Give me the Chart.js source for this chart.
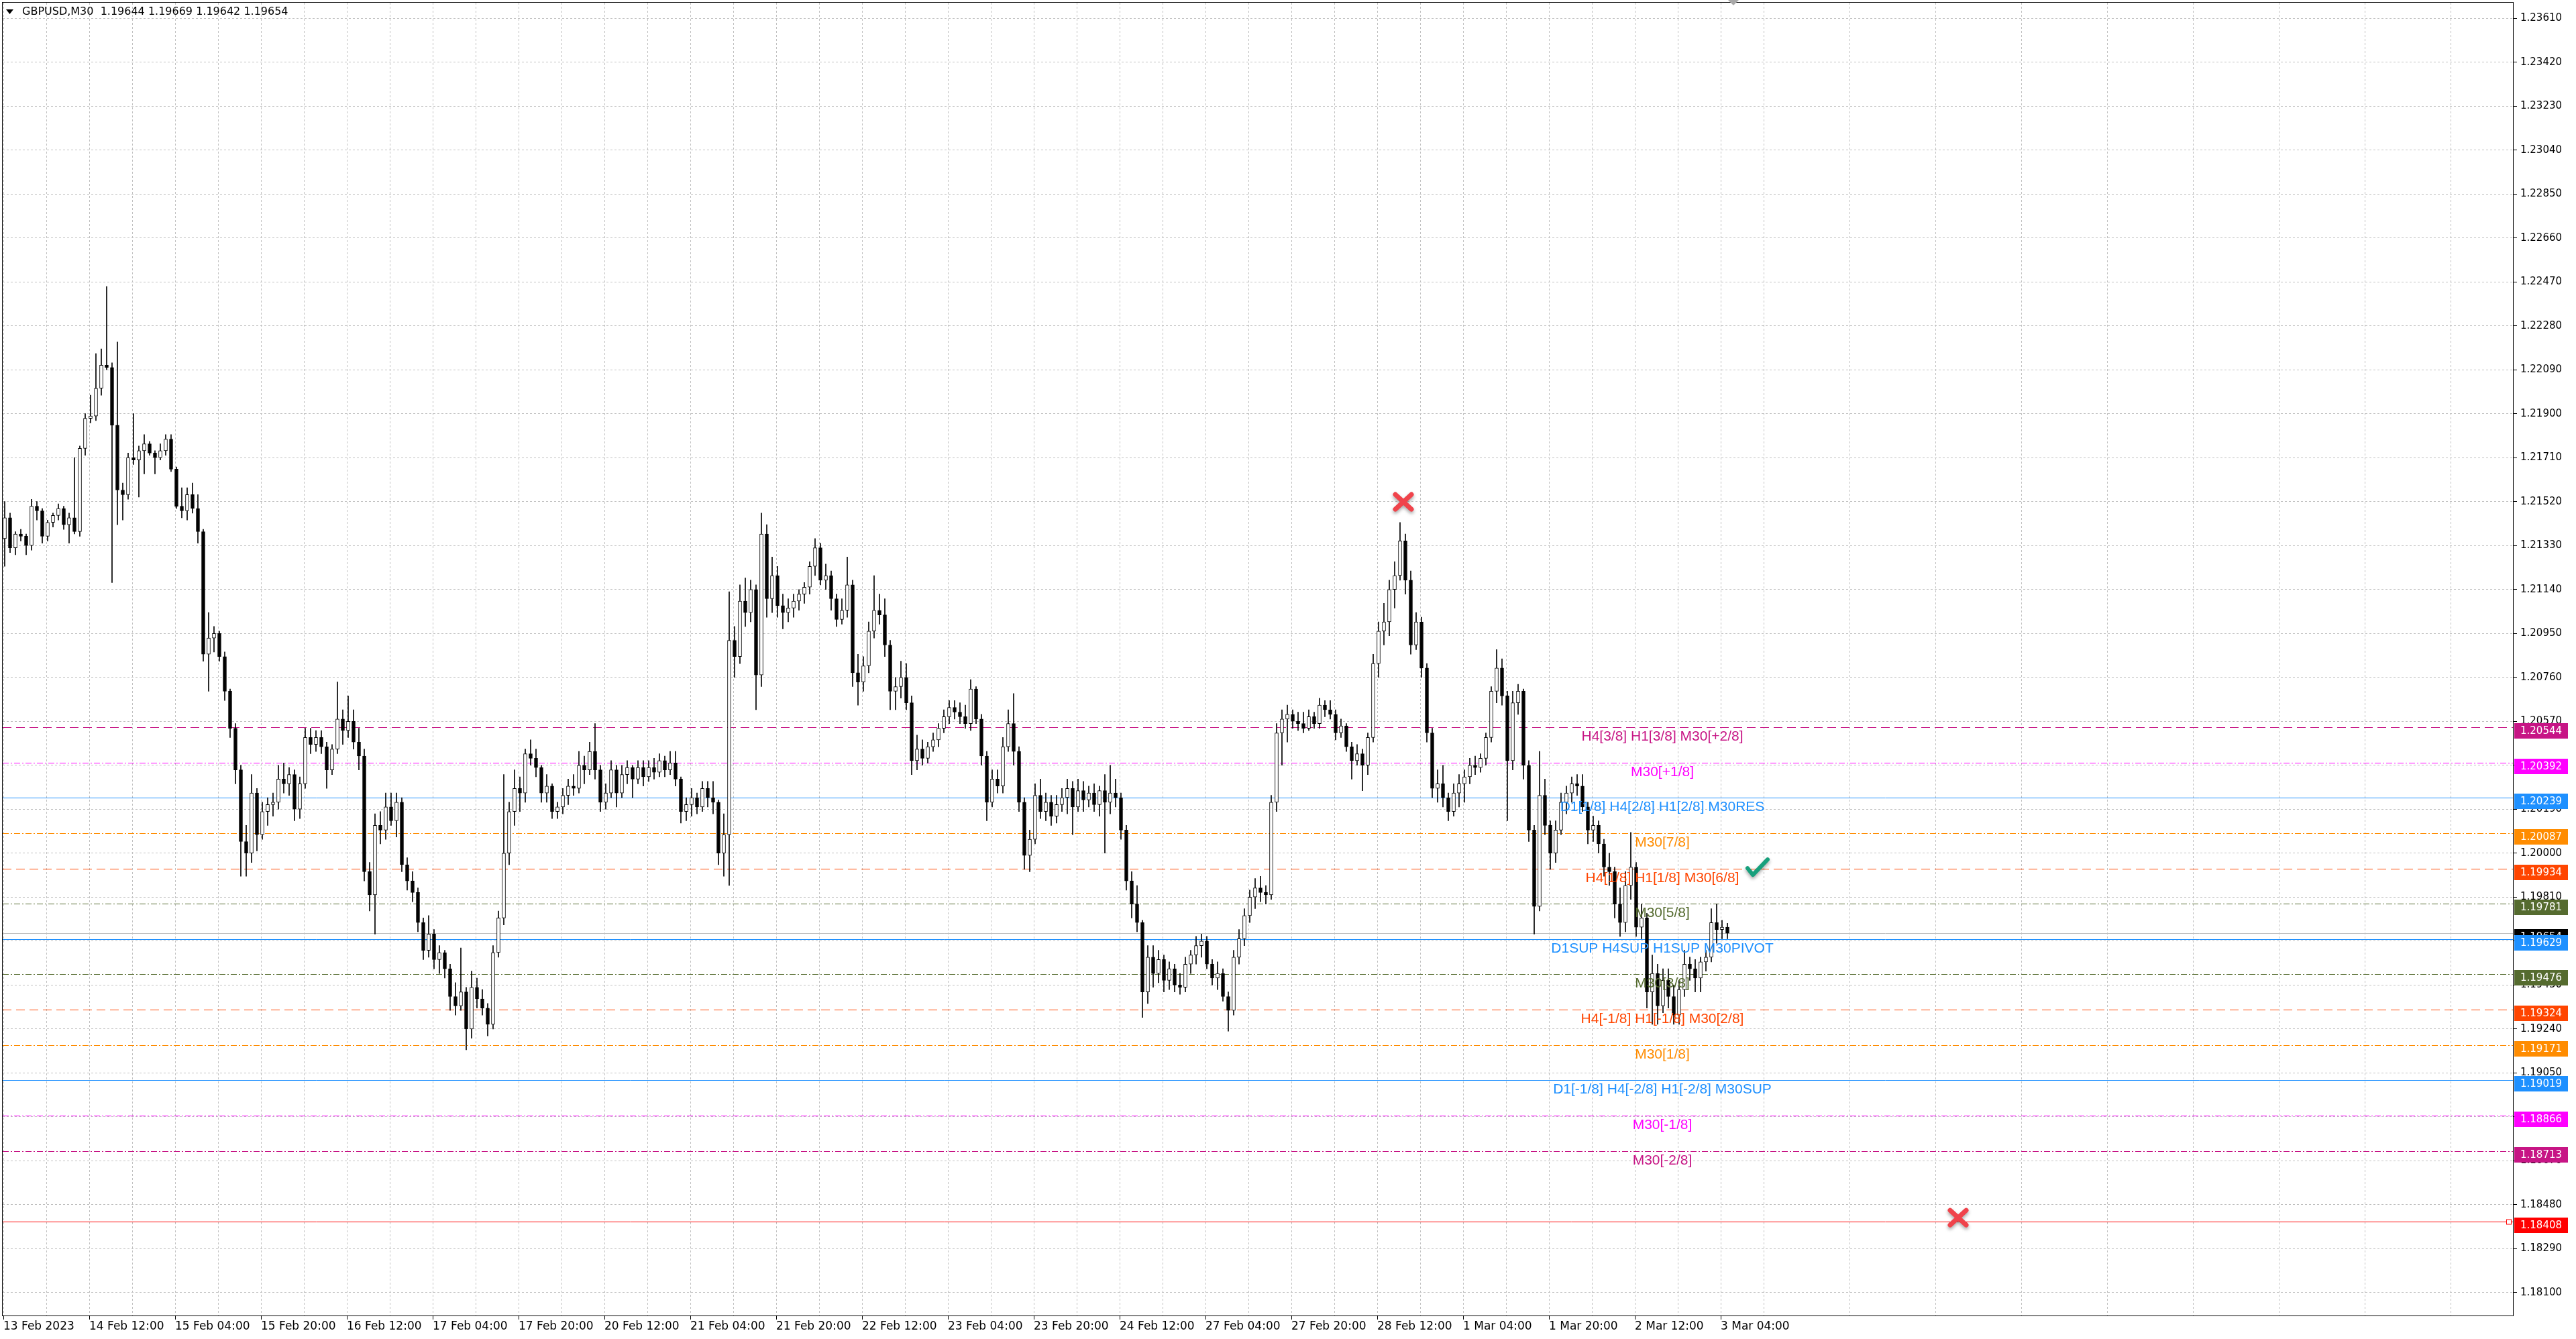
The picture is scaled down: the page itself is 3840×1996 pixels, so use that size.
<!DOCTYPE html>
<html>
<head>
<meta charset="utf-8">
<script src="https://cdn.jsdelivr.net/npm/chart.js"></script>
<style>
  html, body { margin: 0; padding: 0; background: #fff; }
  canvas { display: block; }
</style>
</head>
<body>
<canvas id="chart" width="3840" height="1996" style="width:3840px;height:1996px"></canvas>
<script>
// GBPUSD M30, 13 Feb - 3 Mar 2023, read off the screenshot as hourly candles
// prices are kept in pips above 1.18000
const base = 1.18
const firstOpen = 336

const closePips = [
  345, 332, 338, 337, 333, 350, 348, 337, 343, 346,
  349, 342, 345, 339, 375, 388, 389, 401, 411, 410,
  385, 357, 355, 371, 370, 374, 377, 373, 371, 374,
  379, 366, 350, 348, 355, 349, 339, 286, 293, 295,
  285, 270, 254, 236, 205, 200, 226, 208, 218, 221,
  222, 232, 230, 234, 219, 230, 250, 247, 250, 246,
  236, 245, 258, 253, 257, 248, 242, 192, 182, 212,
  210, 220, 214, 222, 195, 188, 183, 170, 158, 165,
  154, 157, 150, 138, 134, 140, 124, 142, 137, 133,
  126, 157, 172, 200, 218, 228, 226, 243, 241, 237,
  226, 229, 218, 220, 225, 229, 228, 238, 236, 244,
  236, 222, 226, 236, 226, 234, 237, 232, 237, 233,
  237, 235, 240, 236, 239, 232, 218, 221, 224, 220,
  228, 224, 222, 200, 208, 292, 285, 309, 304, 314,
  277, 338, 310, 320, 307, 304, 306, 309, 312, 315,
  324, 332, 318, 320, 310, 301, 305, 316, 278, 274,
  281, 296, 305, 303, 290, 270, 272, 276, 265, 240,
  245, 241, 246, 249, 254, 259, 263, 261, 259, 256,
  271, 258, 242, 222, 232, 229, 246, 256, 244, 222,
  199, 206, 225, 218, 222, 216, 221, 224, 228, 220,
  227, 223, 226, 221, 227, 222, 226, 224, 210, 188,
  178, 170, 140, 155, 148, 154, 145, 150, 143, 142,
  152, 156, 160, 162, 152, 146, 148, 138, 132, 155,
  163, 173, 181, 185, 183, 182, 222, 252, 258, 260,
  257, 256, 254, 259, 256, 264, 262, 260, 252, 255,
  246, 240, 243, 238, 250, 282, 296, 300, 314, 320,
  335, 318, 290, 300, 280, 252, 228, 230, 224, 218,
  226, 230, 233, 238, 237, 241, 250, 270, 280, 268,
  240, 265, 270, 238, 210, 177, 225, 212, 200, 210,
  222, 226, 230, 229, 220, 210, 212, 204, 194, 192,
  178, 170, 186, 194, 168, 172, 140, 148, 134, 145,
  138, 130, 141, 152, 150, 146, 153, 155, 170, 167,
  168, 165.4
]

const highPips = [
  352, 347, 339, 340, 338, 353, 352, 349, 344, 347,
  351, 350, 347, 371, 376, 390, 398, 416, 418, 445,
  412, 421, 360, 373, 390, 376, 381, 378, 374, 377,
  381, 381, 367, 358, 358, 360, 355, 340, 304, 298,
  296, 287, 271, 256, 238, 212, 234, 228, 222, 224,
  226, 238, 239, 237, 236, 233, 254, 254, 253, 253,
  248, 247, 274, 262, 268, 262, 254, 245, 196, 217,
  218, 226, 226, 226, 224, 198, 192, 185, 172, 173,
  167, 160, 158, 152, 144, 159, 142, 149, 146, 141,
  135, 160, 175, 234, 222, 236, 233, 245, 249, 245,
  238, 234, 230, 222, 228, 232, 234, 244, 242, 248,
  256, 238, 230, 240, 238, 238, 240, 238, 240, 240,
  240, 241, 243, 242, 244, 244, 233, 224, 228, 226,
  231, 231, 231, 223, 217, 313, 298, 316, 319, 318,
  316, 347, 342, 328, 324, 312, 310, 312, 314, 317,
  326, 336, 334, 325, 322, 312, 310, 328, 318, 286,
  285, 300, 320, 312, 310, 292, 276, 283, 282, 268,
  251, 249, 248, 252, 256, 262, 266, 266, 265, 264,
  275, 272, 260, 244, 236, 236, 250, 262, 269, 246,
  224, 210, 230, 232, 226, 225, 225, 228, 232, 231,
  232, 231, 229, 230, 229, 234, 238, 232, 226, 212,
  192, 186, 171, 160, 160, 158, 156, 153, 152, 148,
  155, 158, 164, 165, 164, 154, 153, 150, 140, 158,
  167, 176, 184, 189, 190, 186, 225, 256, 262, 264,
  262, 261, 261, 262, 261, 267, 266, 266, 262, 258,
  256, 248, 247, 245, 252, 286, 300, 308, 318, 326,
  343, 338, 322, 304, 302, 282, 254, 236, 238, 226,
  230, 234, 236, 241, 242, 243, 252, 272, 288, 284,
  270, 270, 273, 271, 240, 212, 244, 232, 214, 214,
  226, 229, 233, 234, 234, 222, 216, 214, 206, 200,
  194, 185, 192, 209, 196, 178, 174, 156, 152, 150,
  150, 143, 145, 158, 155, 154, 155, 158, 176, 178,
  171, 169.7
]

const lowPips = [
  324, 330, 329, 335, 329, 331, 344, 334, 335, 341,
  344, 340, 334, 338, 337, 372, 386, 387, 398, 409,
  317, 342, 344, 353, 368, 354, 364, 372, 364, 370,
  372, 365, 349, 345, 344, 347, 334, 283, 270, 287,
  283, 266, 250, 230, 190, 190, 196, 201, 206, 212,
  216, 219, 226, 225, 214, 215, 228, 243, 244, 243,
  228, 234, 243, 247, 250, 245, 236, 188, 175, 165,
  204, 206, 212, 207, 192, 184, 179, 166, 154, 155,
  150, 148, 146, 132, 130, 132, 115, 120, 133, 130,
  121, 124, 155, 169, 195, 212, 218, 222, 238, 233,
  222, 222, 215, 215, 217, 221, 225, 226, 230, 234,
  232, 218, 219, 224, 220, 224, 230, 224, 230, 229,
  231, 232, 233, 233, 234, 229, 213, 214, 216, 217,
  218, 220, 217, 195, 190, 186, 276, 282, 298, 300,
  262, 272, 302, 304, 302, 297, 300, 302, 305, 308,
  312, 320, 316, 314, 305, 298, 299, 302, 272, 264,
  270, 278, 293, 299, 285, 262, 262, 267, 262, 234,
  236, 238, 239, 244, 246, 252, 256, 258, 256, 254,
  253, 256, 238, 214, 220, 226, 226, 244, 238, 218,
  193, 192, 204, 215, 214, 212, 213, 218, 217, 208,
  218, 218, 220, 218, 216, 200, 217, 220, 206, 184,
  172, 166, 129, 135, 142, 144, 140, 141, 140, 139,
  140, 148, 152, 155, 150, 143, 141, 136, 123, 130,
  152, 160, 170, 176, 179, 178, 180, 218, 238, 248,
  254, 253, 252, 253, 254, 254, 259, 258, 249, 250,
  244, 232, 238, 227, 234, 248, 276, 290, 294, 306,
  318, 312, 286, 288, 276, 248, 224, 222, 220, 214,
  216, 220, 222, 230, 234, 235, 238, 248, 265, 264,
  214, 236, 260, 232, 205, 165, 175, 208, 193, 196,
  208, 217, 222, 225, 218, 204, 205, 200, 190, 186,
  172, 164, 166, 180, 164, 163, 133, 126, 126, 131,
  133, 126, 126, 138, 145, 140, 140, 149, 153, 161,
  163, 163
]

// one label every 32 M30 bars
const xLabels = [
  '13 Feb 2023', '14 Feb 12:00', '15 Feb 04:00', '15 Feb 20:00', '16 Feb 12:00',
  '17 Feb 04:00', '17 Feb 20:00', '20 Feb 12:00', '21 Feb 04:00', '21 Feb 20:00',
  '22 Feb 12:00', '23 Feb 04:00', '23 Feb 20:00', '24 Feb 12:00', '27 Feb 04:00',
  '27 Feb 20:00', '28 Feb 12:00', '1 Mar 04:00', '1 Mar 20:00', '2 Mar 12:00',
  '3 Mar 04:00'
]

const yTicks = [
  1.18100, 1.18290, 1.18480, 1.18670, 1.18860, 1.19050, 1.19240, 1.19430, 1.19620, 1.19810,
  1.20000, 1.20190, 1.20380, 1.20570, 1.20760, 1.20950, 1.21140, 1.21330, 1.21520, 1.21710,
  1.21900, 1.22090, 1.22280, 1.22470, 1.22660, 1.22850, 1.23040, 1.23230, 1.23420, 1.23610
]

const levelPrices = [1.20544, 1.20392, 1.20239, 1.20087, 1.19934, 1.19781, 1.19629,
  1.19476, 1.19324, 1.19171, 1.19019, 1.18866, 1.18713]
const levelNames = [
  'H4[3/8] H1[3/8] M30[+2/8]', 'M30[+1/8]', 'D1[1/8] H4[2/8] H1[2/8] M30RES', 'M30[7/8]',
  'H4[1/8] H1[1/8] M30[6/8]', 'M30[5/8]', 'D1SUP H4SUP H1SUP M30PIVOT', 'M30[3/8]',
  'H4[-1/8] H1[-1/8] M30[2/8]', 'M30[1/8]', 'D1[-1/8] H4[-2/8] H1[-2/8] M30SUP',
  'M30[-1/8]', 'M30[-2/8]'
]
const levelColors = ['#c71585', '#ff00ff', '#1e90ff', '#ff8c00', '#ff4500', '#556b2f', '#1e90ff',
  '#556b2f', '#ff4500', '#ff8c00', '#1e90ff', '#ff00ff', '#c71585']
const levelStyles = ['dash', 'dashdot', 'solid', 'dashdot', 'dash', 'dashdot', 'solid',
  'dashdot', 'dash', 'dashdot', 'solid', 'dashdot', 'dashdot']

const lastBar = [1.19644, 1.19669, 1.19642, 1.19654]
const bidPrice = 1.19654
const stopPrice = 1.18408

// markers, x in M30 bar index
const crossIdx = [521.75, 728.5]
const crossPrice = [1.21519, 1.18424]
const checkIdx = 653.75
const checkPrice = 1.19938
const labelIdx = 618.25

const dashes = { solid: [], dash: [13, 7], dashdot: [9, 3, 2, 3] }

const candles = closePips.map((c, k) => {
  const o = k === 0 ? firstOpen : closePips[k - 1]
  return {
    x: 2 * k + 0.5,
    o: base + o / 10000,
    h: base + highPips[k] / 10000,
    l: base + lowPips[k] / 10000,
    c: base + c / 10000
  }
})

const gridIdx = []
for (let v = 0; v <= 935; v += 16) gridIdx.push(v)

const noPad = s => {
  s.paddingTop = 0
  s.paddingBottom = 0
  s.paddingLeft = 0
  s.paddingRight = 0
}

const overlay = {
  id: 'overlay',
  beforeDatasetsDraw(chart) {
    const { ctx, chartArea: a } = chart
    const y = chart.scales.y
    ctx.save()
    ctx.beginPath()
    ctx.rect(a.left, a.top, a.right - a.left, a.bottom - a.top)
    ctx.clip()
    ctx.lineWidth = 1
    const hline = (p, color, dash) => {
      const py = Math.round(y.getPixelForValue(p)) + 0.5
      ctx.strokeStyle = color
      ctx.setLineDash(dash)
      ctx.beginPath()
      ctx.moveTo(a.left, py)
      ctx.lineTo(a.right, py)
      ctx.stroke()
    }
    hline(bidPrice, '#c0c0c0', [])
    levelPrices.forEach((p, j) => hline(p, levelColors[j], dashes[levelStyles[j]]))
    hline(stopPrice, '#ff0000', [])
    ctx.setLineDash([])
    const sy = Math.round(y.getPixelForValue(stopPrice)) + 0.5
    ctx.strokeStyle = '#ff0000'
    ctx.fillStyle = '#fff'
    ctx.fillRect(a.right - 9, sy - 3, 6, 6)
    ctx.strokeRect(a.right - 9.5, sy - 3.5, 7, 7)
    ctx.restore()
  },
  afterDatasetsDraw(chart) {
    const { ctx } = chart
    const x = chart.scales.x
    const y = chart.scales.y
    ctx.save()
    ctx.font = '21px "Liberation Sans", Arial, sans-serif'
    ctx.textAlign = 'center'
    ctx.textBaseline = 'alphabetic'
    const lx = x.getPixelForValue(labelIdx)
    levelPrices.forEach((p, j) => {
      ctx.fillStyle = levelColors[j]
      ctx.fillText(levelNames[j], lx, y.getPixelForValue(p) + 20)
    })

    // red crosses
    crossIdx.forEach((v, j) => {
      const cx = x.getPixelForValue(v)
      const cy = y.getPixelForValue(crossPrice[j])
      ctx.save()
      ctx.shadowColor = 'rgba(0,0,0,0.35)'
      ctx.shadowBlur = 5
      ctx.shadowOffsetY = 3
      ctx.strokeStyle = '#f0434b'
      ctx.lineWidth = 7
      ctx.lineCap = 'round'
      ctx.beginPath()
      ctx.moveTo(cx - 12, cy - 11)
      ctx.lineTo(cx + 12, cy + 11)
      ctx.moveTo(cx + 12, cy - 11)
      ctx.lineTo(cx - 12, cy + 11)
      ctx.stroke()
      ctx.restore()
    })

    // green tick
    const tx = x.getPixelForValue(checkIdx)
    const ty = y.getPixelForValue(checkPrice)
    ctx.save()
    ctx.shadowColor = 'rgba(0,0,0,0.35)'
    ctx.shadowBlur = 5
    ctx.shadowOffsetY = 3
    ctx.strokeStyle = '#17a07c'
    ctx.lineWidth = 6
    ctx.lineCap = 'round'
    ctx.lineJoin = 'round'
    ctx.beginPath()
    ctx.moveTo(tx - 15, ty + 1)
    ctx.lineTo(tx - 7, ty + 11)
    ctx.lineTo(tx + 15, ty - 12)
    ctx.stroke()
    ctx.restore()
    ctx.restore()
  },
  afterDraw(chart) {
    const { ctx, chartArea: a } = chart
    const x = chart.scales.x
    const y = chart.scales.y
    ctx.save()

    // frame
    ctx.strokeStyle = '#000'
    ctx.lineWidth = 1
    ctx.strokeRect(a.left - 0.5, a.top - 0.5, a.right - a.left + 1, a.bottom - a.top + 1)

    // shift marker
    const shx = x.getPixelForValue(2 * closePips.length + 0.75)
    ctx.fillStyle = '#a8a8a8'
    ctx.beginPath()
    ctx.moveTo(shx - 8, 0)
    ctx.lineTo(shx + 8, 0)
    ctx.lineTo(shx, 8)
    ctx.closePath()
    ctx.fill()

    // header
    ctx.fillStyle = '#000'
    ctx.beginPath()
    ctx.moveTo(9, 14)
    ctx.lineTo(20, 14)
    ctx.lineTo(14.5, 21)
    ctx.closePath()
    ctx.fill()
    ctx.font = '16px "DejaVu Sans", sans-serif'
    ctx.textAlign = 'left'
    ctx.textBaseline = 'middle'
    ctx.fillText('GBPUSD,M30  ' + lastBar.map(v => v.toFixed(5)).join(' '), 33, 18)

    // price boxes on the axis
    ctx.font = '15px "DejaVu Sans", sans-serif'
    const box = (p, color) => {
      const py = Math.round(y.getPixelForValue(p))
      ctx.fillStyle = color
      ctx.fillRect(y.left + 2, py - 6, 80, 23)
      ctx.fillStyle = '#fff'
      ctx.fillText(p.toFixed(5), y.left + 11, py + 6)
    }
    box(bidPrice, '#000000')
    levelPrices.forEach((p, j) => box(p, levelColors[j]))
    box(stopPrice, '#ff0000')
    ctx.restore()
  }
}

new Chart(document.getElementById('chart'), {
  type: 'bar',
  data: {
    datasets: [
      {
        data: candles.map(d => ({ x: d.x, y: [d.o, d.c] })),
        backgroundColor: candles.map(d => (d.c >= d.o ? '#ffffff' : '#000000')),
        borderColor: '#000000',
        borderWidth: 1,
        borderSkipped: false,
        barThickness: 5,
        grouped: false,
        order: 0
      },
      {
        data: candles.map(d => ({ x: d.x, y: [d.l, d.h] })),
        backgroundColor: '#000000',
        borderWidth: 0,
        barThickness: 1,
        grouped: false,
        order: 1
      }
    ]
  },
  options: {
    responsive: false,
    animation: false,
    devicePixelRatio: 1,
    events: [],
    layout: { padding: { left: 4, top: 4, right: 0, bottom: 0 } },
    plugins: { legend: { display: false }, tooltip: { enabled: false } },
    scales: {
      x: {
        type: 'linear',
        min: -0.25,
        max: 935.25,
        offset: false,
        afterBuildTicks: s => { s.ticks = gridIdx.map(v => ({ value: v })) },
        afterFit: s => { s.height = 35; noPad(s) },
        ticks: {
          autoSkip: false,
          maxRotation: 0,
          minRotation: 0,
          align: 'start',
          padding: 0,
          color: '#000',
          font: { family: 'DejaVu Sans', size: 17 },
          callback: v => (v % 32 === 0 ? xLabels[v / 32] : '')
        },
        grid: {
          offset: false,
          color: '#c0c0c0',
          tickLength: 6,
          tickColor: c => (c.tick && c.tick.value % 32 === 0 ? '#000' : 'rgba(0,0,0,0)'),
          tickBorderDash: [1, 0]
        },
        border: { display: true, color: '#000', dash: [3, 3] }
      },
      y: {
        position: 'right',
        min: 1.18001,
        max: 1.23677,
        afterBuildTicks: s => { s.ticks = yTicks.map(v => ({ value: v })) },
        afterFit: s => { s.width = 94; noPad(s) },
        ticks: {
          autoSkip: false,
          padding: 5,
          color: '#000',
          font: { family: 'DejaVu Sans', size: 15 },
          callback: v => v.toFixed(5)
        },
        grid: {
          color: '#c0c0c0',
          tickLength: 6,
          tickColor: '#000',
          tickBorderDash: [1, 0]
        },
        border: { display: true, color: '#000', dash: [3, 3] }
      }
    }
  },
  plugins: [overlay]
})
</script>
</body>
</html>
